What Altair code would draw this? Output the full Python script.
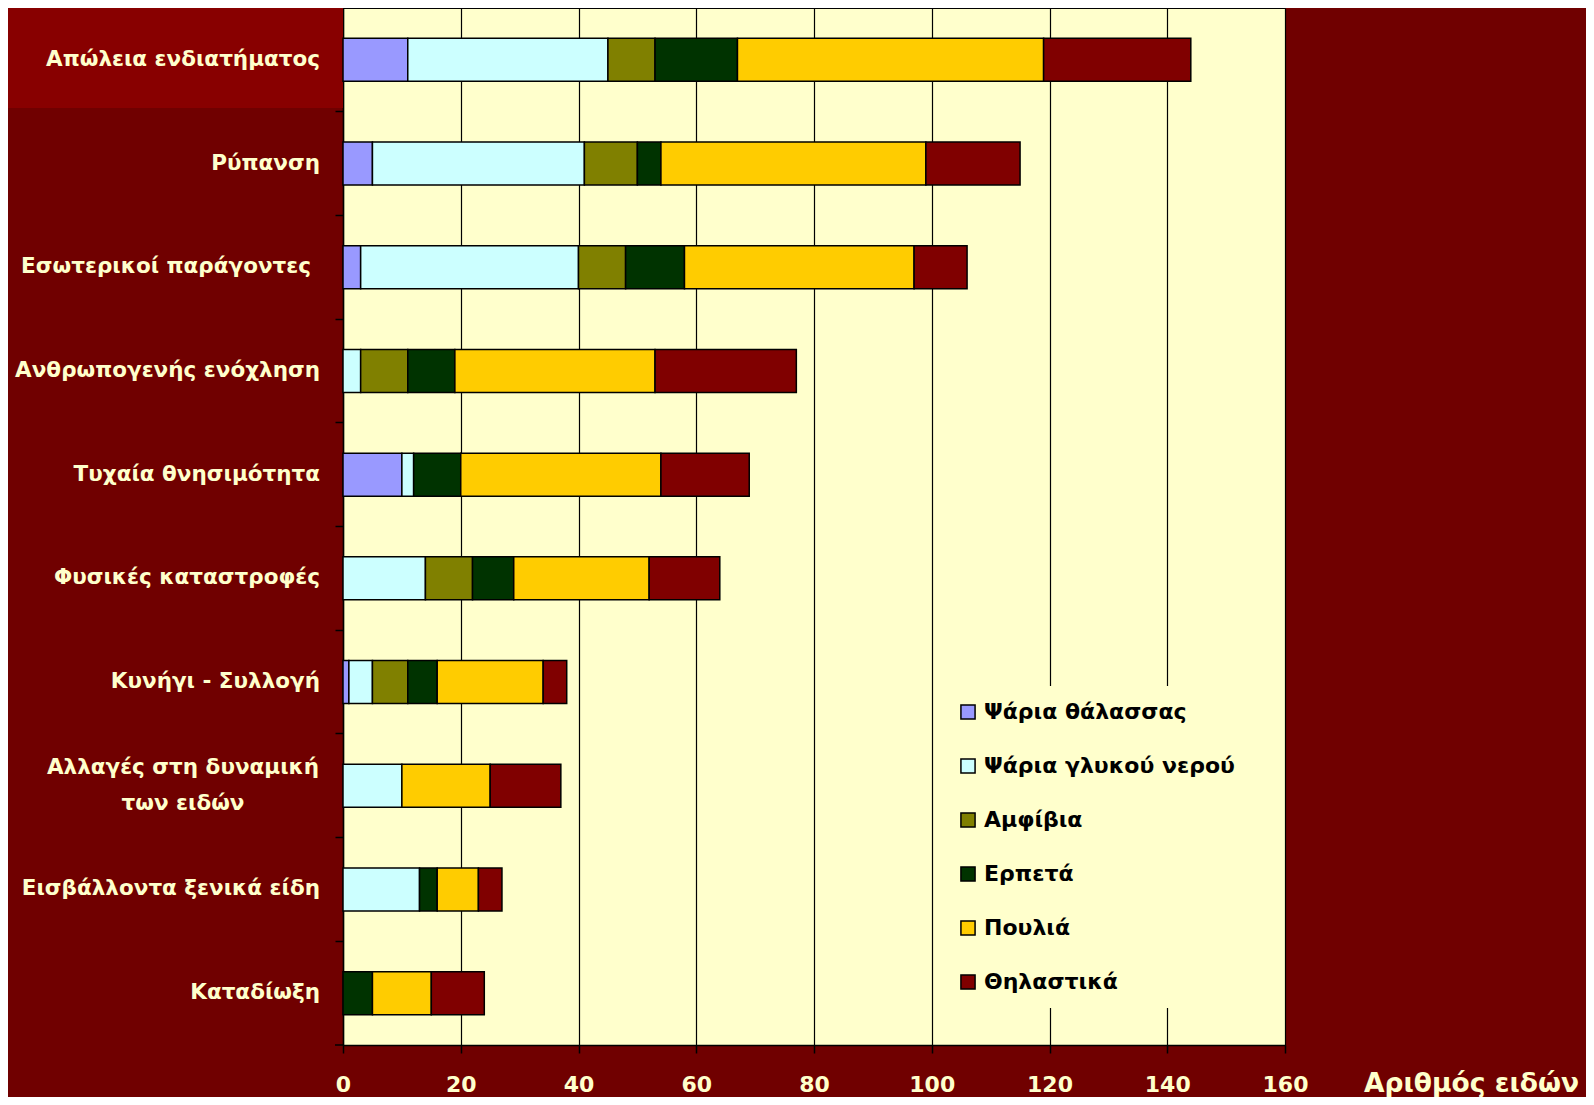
import altair as alt
import pandas as pd

categories = [
    "Απώλεια ενδιατήματος",
    "Ρύπανση",
    "Εσωτερικοί παράγοντες",
    "Ανθρωπογενής ενόχληση",
    "Τυχαία θνησιμότητα",
    "Φυσικές καταστροφές",
    "Κυνήγι - Συλλογή",
    "Αλλαγές στη δυναμική των ειδών",
    "Εισβάλλοντα ξενικά είδη",
    "Καταδίωξη",
]
label_text = [
    "Απώλεια ενδιατήματος",
    "Ρύπανση",
    "Εσωτερικοί παράγοντες",
    "Ανθρωπογενής ενόχληση",
    "Τυχαία θνησιμότητα",
    "Φυσικές καταστροφές",
    "Κυνήγι - Συλλογή",
    "Αλλαγές στη δυναμική\nτων ειδών",
    "Εισβάλλοντα ξενικά είδη",
    "Καταδίωξη",
]
series = ["Ψάρια θάλασσας", "Ψάρια γλυκού νερού", "Αμφίβια", "Ερπετά", "Πουλιά", "Θηλαστικά"]
colors = ["#9999FF", "#CCFFFF", "#808000", "#003300", "#FFCC00", "#800000"]

sea_fish = [11, 5, 3, 0, 10, 0, 1, 0, 0, 0]
fresh_fish = [34, 36, 37, 3, 2, 14, 4, 10, 13, 0]
amphibians = [8, 9, 8, 8, 0, 8, 6, 0, 0, 0]
reptiles = [14, 4, 10, 8, 8, 7, 5, 0, 3, 5]
birds = [52, 45, 39, 34, 34, 23, 18, 15, 7, 10]
mammals = [25, 16, 9, 24, 15, 12, 4, 12, 4, 9]
x_ticks = [0, 20, 40, 60, 80, 100, 120, 140, 160]

FONT = "DejaVu Sans"
CREAM = "#FFFFCC"
BG = "#700000"

rows = []
for si, (name, vals) in enumerate(zip(series, [sea_fish, fresh_fish, amphibians, reptiles, birds, mammals])):
    for c, v in zip(categories, vals):
        if v > 0:
            rows.append({"category": c, "series": name, "idx": si, "value": v})
df = pd.DataFrame(rows)

lab_df = pd.DataFrame({"category": categories, "label": label_text})
multi = lab_df["label"].str.contains("\n")
shifted = lab_df["category"] == "Εσωτερικοί παράγοντες"

W, H = 942, 1037

yenc = alt.Y("category:N", sort=categories, scale=alt.Scale(paddingInner=0, paddingOuter=0),
             axis=alt.Axis(title=None, labels=False, bandPosition=0, tickSize=8, tickColor="black",
                           tickWidth=1.5, domainColor="black", domainWidth=1.5, grid=False))

bars = alt.Chart(df).mark_bar(size=43, stroke="black", strokeWidth=1.5).encode(
    x=alt.X("value:Q", stack="zero", scale=alt.Scale(domain=[0, 160], nice=False),
            axis=alt.Axis(values=x_ticks, title="Αριθμός ειδών", grid=True, gridColor="black",
                          gridWidth=1.2, gridOpacity=1, domainColor="black", domainWidth=1.5,
                          tickColor="black", tickSize=8, tickWidth=1.5, labelPadding=21,
                          labelFlush=False,
                          labelColor=CREAM, labelFont=FONT, labelFontSize=22, labelFontWeight="bold",
                          titleColor=CREAM, titleFont=FONT, titleFontSize=26.5, titleFontWeight="bold",
                          titleX=1128, titleY=46, titleAlign="center", titleBaseline="alphabetic")),
    y=yenc,
    color=alt.Color("series:N", scale=alt.Scale(domain=series, range=colors),
                    legend=alt.Legend(title=None, orient="none", legendX=599, legendY=678,
                                      fillColor=CREAM, padding=15, rowPadding=32,
                                      symbolType="square", symbolSize=200, symbolStrokeColor="black",
                                      symbolStrokeWidth=1.5, labelFont=FONT, labelFontSize=22,
                                      labelFontWeight="bold", labelColor="black", labelOffset=5,
                                      labelLimit=0)),
    order=alt.Order("idx:Q"),
)

text_style = dict(baseline="middle", font=FONT, fontSize=21.5, fontWeight="bold", color=CREAM)

labels_right = alt.Chart(lab_df[~multi & ~shifted]).mark_text(align="right", **text_style).encode(
    y=alt.Y("category:N", sort=categories), x=alt.value(-23), text="label:N")

labels_shift = alt.Chart(lab_df[shifted]).mark_text(align="right", **text_style).encode(
    y=alt.Y("category:N", sort=categories), x=alt.value(-32), text="label:N")

labels_center = alt.Chart(lab_df[multi]).mark_text(
    align="center", lineBreak="\n", lineHeight=36, dy=-18, **text_style
).encode(y=alt.Y("category:N", sort=categories), x=alt.value(-160), text="label:N")

deco = alt.Chart(alt.Data(values=[{"a": 1}])).mark_rect(color="#880000").encode(
    x=alt.value(-335), x2=alt.value(0), y=alt.value(0), y2=alt.value(100)
)
end_tick = alt.Chart(alt.Data(values=[{"a": 1}])).mark_rule(color="black", strokeWidth=1.5).encode(
    x=alt.value(-8), x2=alt.value(0), y=alt.value(H)
)

chart = alt.layer(deco, bars, labels_right, labels_shift, labels_center, end_tick).properties(
    width=W, height=H,
    autosize=alt.AutoSizeParams(type="none"),
    padding={"left": 335, "top": 0, "right": 301, "bottom": 52},
    background=BG,
).configure_view(fill=CREAM, stroke="black", strokeWidth=1)

chart.save("out.html", embed_options={"renderer": "svg", "actions": False})
